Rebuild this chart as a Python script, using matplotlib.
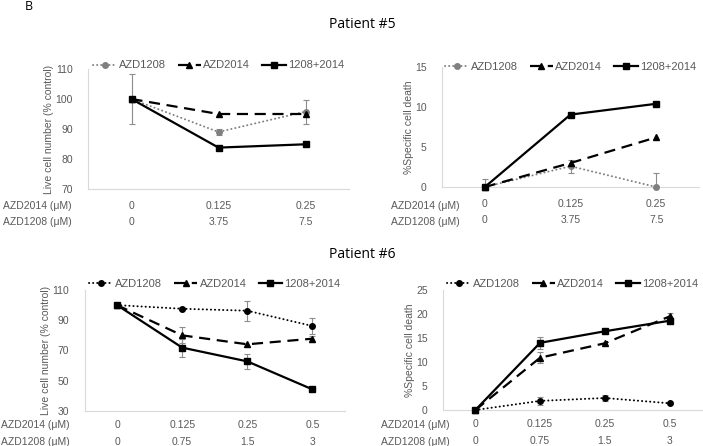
import numpy as np
import matplotlib.pyplot as plt

plt.rcParams['font.family'] = ['Liberation Sans', 'DejaVu Sans']

W, H = 703, 446

# ---- data ----
p5_azd2014 = ['0', '0.125', '0.25']
p5_azd1208 = ['0', '3.75', '7.5']
p6_azd2014 = ['0', '0.125', '0.25', '0.5']
p6_azd1208 = ['0', '0.75', '1.5', '3']

p5_live_1208 = [100, 89, 95.8]
p5_live_1208_err = [8.2, 1.0, 4.0]
p5_live_2014 = [100, 95, 95]
p5_live_2014_err = [0, 0, 0]
p5_live_combo = [100, 83.8, 84.9]
p5_live_combo_err = [0, 0, 0]

p5_death_1208 = [0, 2.6, 0]
p5_death_1208_err = [1.0, 0.8, 1.7]
p5_death_2014 = [0, 3.0, 6.2]
p5_death_2014_err = [0, 0, 0]
p5_death_combo = [0, 9.05, 10.4]
p5_death_combo_err = [0, 0, 0]

p6_live_1208 = [100, 97.6, 96.3, 86.2]
p6_live_1208_err = [0, 1.0, 6.6, 5.0]
p6_live_2014 = [100, 80.0, 74.1, 77.8]
p6_live_2014_err = [0, 5.3, 0, 2.0]
p6_live_combo = [100, 71.9, 62.8, 44.3]
p6_live_combo_err = [0, 6.0, 5.0, 0]

p6_death_1208 = [0, 1.9, 2.5, 1.4]
p6_death_1208_err = [0, 0.8, 0.7, 0]
p6_death_2014 = [0, 10.9, 13.9, 19.5]
p6_death_2014_err = [0, 1.2, 0, 0.8]
p6_death_combo = [0, 14.0, 16.4, 18.6]
p6_death_combo_err = [0, 1.2, 0, 0.6]

series_names = ['AZD1208', 'AZD2014', '1208+2014']

TXT = '#595959'
AXC = '#d9d9d9'
ERR = '#8c8c8c'


def px(x, y):
    return x / W, 1 - y / H


def panel(rect, ys, errs, c1208, ylim, yticks, ylabel, d2014, d1208, off1, off2, leg_y):
    l, t, r, b = rect
    ax = fig.add_axes([l / W, 1 - b / H, (r - l) / W, (b - t) / H])
    x = np.arange(len(d2014))
    styles = [dict(ls=(0, (0.1, 2.0)), marker='o', ms=4, color=c1208, lw=1.4,
                   dash_capstyle='round'),
              dict(ls=(0, (5, 3)), marker='^', ms=4.5, color='black', lw=1.6),
              dict(ls='-', marker='s', ms=4.5, color='black', lw=1.6)]
    for yv, ev, st, name in zip(ys, errs, styles, series_names):
        yv = np.array(yv, float)
        ev = np.array(ev, float)
        m = ev > 0
        ax.errorbar(x[m], yv[m], yerr=ev[m], fmt='none', ecolor=ERR, elinewidth=0.8,
                    capsize=2.5, capthick=0.8, zorder=2)
        ax.plot(x, yv, label=name, clip_on=False, zorder=3, **st)
    ax.set_xlim(-0.5, len(x) - 0.5)
    ax.set_ylim(*ylim)
    ax.set_yticks(yticks)
    ax.set_xticks([])
    ax.tick_params(axis='y', length=0, pad=11, labelsize=7.5, labelcolor=TXT)
    for s in ['top', 'right']:
        ax.spines[s].set_visible(False)
    for s in ['left', 'bottom']:
        ax.spines[s].set_color(AXC)
        ax.spines[s].set_linewidth(0.8)
    ax.set_ylabel(ylabel, fontsize=7.5, color=TXT, labelpad=1)
    for xi, a, c in zip(x, d2014, d1208):
        ax.annotate(a, (xi, 0), xycoords=('data', 'axes fraction'), xytext=(0, -off1),
                    textcoords='offset points', ha='center', va='center', fontsize=7.5, color=TXT)
        ax.annotate(c, (xi, 0), xycoords=('data', 'axes fraction'), xytext=(0, -off2),
                    textcoords='offset points', ha='center', va='center', fontsize=7.5, color=TXT)
    ax.legend(loc='center', bbox_to_anchor=(0.5, leg_y), ncol=3, frameon=False, fontsize=8,
              labelcolor=TXT, handlelength=2.1, handletextpad=0.2, columnspacing=1.1,
              borderaxespad=0, borderpad=0)
    return ax


fig = plt.figure(figsize=(W / 100, H / 100), dpi=100)

fig.text(*px(29, 7), 'B', fontsize=9, ha='center', va='center', family=['Open Sans', 'DejaVu Sans'])
fig.text(*px(362, 24), 'Patient #5', fontsize=10, ha='center', va='center',
         family=['Open Sans', 'DejaVu Sans'])
fig.text(*px(362, 254), 'Patient #6', fontsize=10, ha='center', va='center',
         family=['Open Sans', 'DejaVu Sans'])

panel((88, 69, 349, 189),
      [p5_live_1208, p5_live_2014, p5_live_combo],
      [p5_live_1208_err, p5_live_2014_err, p5_live_combo_err],
      '#808080', (70, 110), [70, 80, 90, 100, 110], 'Live cell number (% control)',
      p5_azd2014, p5_azd1208, 12, 24, 1.03)
panel((442, 67, 699, 187),
      [p5_death_1208, p5_death_2014, p5_death_combo],
      [p5_death_1208_err, p5_death_2014_err, p5_death_combo_err],
      '#808080', (0, 15), [0, 5, 10, 15], '%Specific cell death',
      p5_azd2014, p5_azd1208, 12, 24, 1.0)
panel((84.5, 290, 345, 411),
      [p6_live_1208, p6_live_2014, p6_live_combo],
      [p6_live_1208_err, p6_live_2014_err, p6_live_combo_err],
      'black', (30, 110), [30, 50, 70, 90, 110], 'Live cell number (% control)',
      p6_azd2014, p6_azd1208, 10, 22.5, 1.05)
panel((443, 290, 702, 410),
      [p6_death_1208, p6_death_2014, p6_death_combo],
      [p6_death_1208_err, p6_death_2014_err, p6_death_combo_err],
      'black', (0, 25), [0, 5, 10, 15, 20, 25], '%Specific cell death',
      p6_azd2014, p6_azd1208, 10, 22.5, 1.05)

# row labels under each panel
for xr, y1, y2 in [(72, 206, 222), (460, 206, 222), (70, 425, 442), (450, 425, 442)]:
    fig.text(*px(xr, y1), 'AZD2014 (\u03bcM)', ha='right', va='center', fontsize=7.5, color=TXT)
    fig.text(*px(xr, y2), 'AZD1208 (\u03bcM)', ha='right', va='center', fontsize=7.5, color=TXT)

fig.savefig('out.png', dpi=100)
